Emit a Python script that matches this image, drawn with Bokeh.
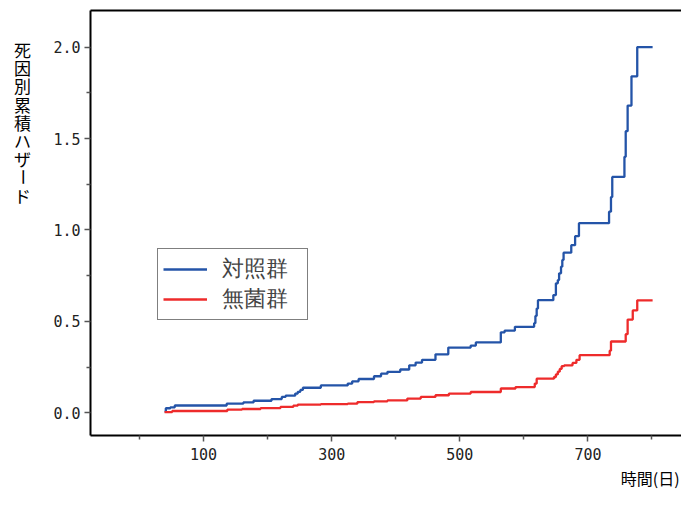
import math
from bokeh.plotting import figure
from bokeh.layouts import row, column
from bokeh.models import (FixedTicker, Range1d, Legend, LegendItem,
                          LinearAxis, PrintfTickFormatter)
from bokeh.core.properties import value
from bokeh.embed import file_html
from bokeh.resources import INLINE

# ---- data ----
days_ctrl = [39, 41, 48, 55, 136, 162, 178, 206, 222, 228, 243, 247, 251, 255,
             283, 325, 332, 342, 366, 377, 387, 407, 421, 431, 441, 462, 482,
             517, 525, 564, 570, 586, 616, 618, 620, 622, 646, 650, 653, 655,
             658, 660, 662, 674, 680, 686, 733, 736, 738, 757, 759, 762, 768,
             777, 801]
haz_ctrl = [0.008, 0.025, 0.030, 0.040, 0.050, 0.057, 0.066, 0.075, 0.087, 0.094,
            0.105, 0.115, 0.125, 0.137, 0.150, 0.160, 0.172, 0.185, 0.200, 0.214,
            0.224, 0.237, 0.260, 0.275, 0.290, 0.320, 0.357, 0.368, 0.385, 0.440,
            0.450, 0.470, 0.490, 0.530, 0.570, 0.616, 0.644, 0.708, 0.726, 0.763,
            0.799, 0.836, 0.876, 0.917, 0.966, 1.037, 1.100, 1.180, 1.290, 1.400,
            1.540, 1.680, 1.840, 2.000, 2.000]

days_germ = [39, 51, 137, 160, 189, 220, 240, 247, 283, 325, 340, 366, 387, 418,
             439, 462, 483, 517, 564, 587, 617, 620, 647, 650, 653, 656, 659, 663,
             676, 682, 687, 734, 736, 759, 762, 770, 777, 801]
haz_germ = [0.004, 0.010, 0.018, 0.021, 0.026, 0.032, 0.039, 0.045, 0.048, 0.050,
            0.058, 0.063, 0.068, 0.078, 0.087, 0.096, 0.105, 0.114, 0.133, 0.141,
            0.160, 0.187, 0.196, 0.210, 0.225, 0.240, 0.255, 0.260, 0.273, 0.290,
            0.315, 0.340, 0.390, 0.430, 0.510, 0.560, 0.615, 0.615]

x_major = [100, 300, 500, 700]
x_minor = [0, 200, 400, 600, 800]
y_major = [0.0, 0.5, 1.0, 1.5, 2.0]
y_minor = [0.25, 0.75, 1.25, 1.75]
series_names = ["対照群", "無菌群"]
series_colors = ["#2454A8", "#EE2B2B"]
y_label = "死因別累積ハザード"
x_label = "時間(日)"

JP = "Noto Sans CJK JP"
MONO = "DejaVu Sans Mono"

LEFT_W = 40
TOTAL_H = 489
BOTTOM_H = 24
MAIN_W = 641
FRAME_H = 425
AXIS_H = 30
X0, X1 = -76.6, 846.1
Y1 = 2.2
Y0 = -0.124

# ---- narrow panel holding the vertical (stacked) y-axis title ----
lab = figure(width=LEFT_W, height=TOTAL_H, x_range=Range1d(0, LEFT_W),
             y_range=Range1d(TOTAL_H, 0), x_axis_type=None, y_axis_type=None,
             min_border=0, output_backend="svg", toolbar_location=None)
lab.outline_line_color = None
lab.background_fill_color = "white"
lab.border_fill_color = "white"
chars = list(y_label)
lab.text(x=[22] * len(chars), y=[49 + i * 18.2 for i in range(len(chars))],
         text=chars, angle=[(math.pi / 2 if c == "ー" else 0) for c in chars],
         text_align="center", text_baseline="middle",
         text_font=value(JP), text_font_size="17px", text_color="black")

# ---- main chart ----
p = figure(frame_width=MAIN_W - (90 - LEFT_W), frame_height=FRAME_H,
           x_range=Range1d(X0, X1), y_range=Range1d(Y0, Y1),
           output_backend="svg", toolbar_location=None,
           min_border_left=90 - LEFT_W, min_border_right=0, min_border_top=10,
           min_border_bottom=AXIS_H)
p.outline_line_color = None
p.grid.visible = False
p.background_fill_color = "white"
p.border_fill_color = "white"

r1 = p.step(days_ctrl, haz_ctrl, mode="after", line_color=series_colors[0], line_width=2.3)
r2 = p.step(days_germ, haz_germ, mode="after", line_color=series_colors[1], line_width=2.3)

for ax in (p.xaxis[0], p.yaxis[0]):
    ax.axis_line_color = "black"
    ax.axis_line_width = 2
    ax.major_tick_line_color = "#555555"
    ax.minor_tick_line_color = "#555555"
    ax.major_tick_line_width = 1.5
    ax.minor_tick_line_width = 1.5
    ax.major_tick_in = 0
    ax.minor_tick_in = 0
    ax.major_label_text_font = MONO
    ax.major_label_text_font_size = "15px"
    ax.major_label_text_color = "#222222"

p.xaxis[0].ticker = FixedTicker(ticks=x_major, minor_ticks=x_minor)
p.xaxis[0].major_tick_out = 6
p.xaxis[0].minor_tick_out = 4
p.xaxis[0].major_label_standoff = 6

p.yaxis[0].ticker = FixedTicker(ticks=y_major, minor_ticks=y_minor)
p.yaxis[0].formatter = PrintfTickFormatter(format="%.1f")
p.yaxis[0].major_tick_out = 6
p.yaxis[0].minor_tick_out = 4
p.yaxis[0].major_label_standoff = 4

top = LinearAxis(ticker=FixedTicker(ticks=[]), major_label_text_font_size="0px",
                 major_tick_out=0, minor_tick_out=0, major_label_standoff=0,
                 axis_line_width=2, axis_line_color="black")
p.add_layout(top, "above")

legend = Legend(items=[LegendItem(label=series_names[0], renderers=[r1]),
                       LegendItem(label=series_names[1], renderers=[r2])],
                location=(67, 115), border_line_color="black", border_line_width=1,
                background_fill_color="white", background_fill_alpha=1.0,
                label_text_font="DejaVu Sans", label_text_font_size="22px",
                glyph_width=44, glyph_height=26, label_height=26, label_width=80,
                label_standoff=15, padding=5, spacing=0, margin=0)
p.add_layout(legend)

# ---- strip under the chart holding the right-aligned x-axis title ----
bot = figure(width=MAIN_W, height=BOTTOM_H, x_range=Range1d(0, MAIN_W),
             y_range=Range1d(BOTTOM_H, 0), x_axis_type=None, y_axis_type=None,
             min_border=0, output_backend="svg", toolbar_location=None)
bot.outline_line_color = None
bot.background_fill_color = "white"
bot.border_fill_color = "white"
bot.text(x=[MAIN_W - 2], y=[BOTTOM_H / 2], text=[x_label], text_align="right",
         text_baseline="middle", text_font=value(JP), text_font_size="16px",
         text_color="black")

layout = row(lab, column(p, bot, spacing=0), spacing=0)
open("out.html", "w").write(file_html(layout, INLINE))
